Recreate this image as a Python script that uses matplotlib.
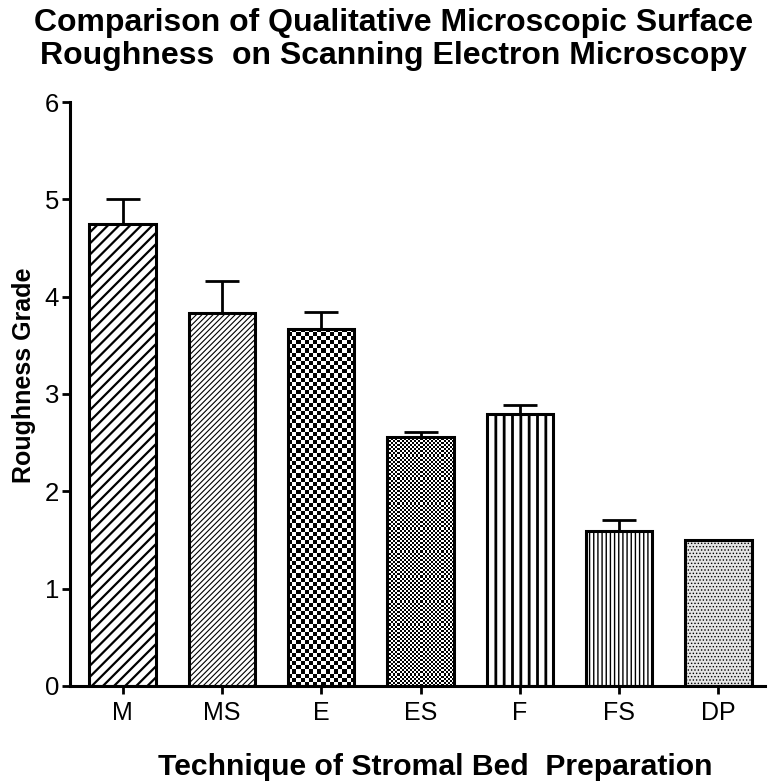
import numpy as np
import matplotlib.pyplot as plt

plt.rcParams['font.family'] = ['Liberation Sans', 'DejaVu Sans']

# Donnees
groupes = ['M', 'MS', 'E', 'ES', 'F', 'FS', 'DP']
moyennes = [4.75, 3.83, 3.67, 2.56, 2.79, 1.59, 1.50]
erreurs = [0.25, 0.33, 0.17, 0.05, 0.10, 0.11, 0.0]

# Motifs de remplissage
motifs = ['///', '//////', None, None, '||', '||||', '.....']
epaisseurs = [1.6, 0.8, 1.0, 1.0, 2.0, 1.0, 0.6]
fonds = ['white', 'white', 'white', 'white', 'white', 'white', '#e4e4e4']
damiers = {2: 16, 3: 32}   # nombre de cases en largeur

fig = plt.figure(figsize=(7.7, 7.83), dpi=100)
ax = fig.add_axes([0.091, 0.124, 0.9025, 0.7457])
ax.set_xlim(-0.53, 6.47)
ax.set_ylim(0, 6)

x = np.arange(len(groupes))
barres = []
for i in range(len(groupes)):
    with plt.rc_context({'hatch.linewidth': epaisseurs[i], 'hatch.color': 'black'}):
        b = ax.bar(x[i], moyennes[i], width=0.67, color=fonds[i], edgecolor='black',
                   linewidth=2.2, hatch=motifs[i], zorder=2)[0]
    barres.append(b)

# damiers pour E et ES (cases carrees)
larg_px = ax.get_position().width * fig.get_figwidth() * fig.dpi / 7.0
haut_px = ax.get_position().height * fig.get_figheight() * fig.dpi / 6.0
for i, n in damiers.items():
    b = barres[i]
    x0, w, h = b.get_x(), b.get_width(), b.get_height()
    cell = w / n
    cell_y = cell * larg_px / haut_px
    m = int(np.ceil(h / cell_y))
    grille = (np.add.outer(np.arange(m), np.arange(n)) % 2).astype(float)
    im = ax.imshow(grille, cmap='gray', vmin=0, vmax=1, origin='lower',
                   extent=[x0, x0 + n * cell, 0, m * cell_y],
                   interpolation='nearest', aspect='auto', zorder=2.5)
    im.set_clip_path(b)
    b.set_facecolor('none')
    b.set_zorder(3)

ax.errorbar(x, moyennes, yerr=[np.zeros(len(erreurs)), erreurs], fmt='none',
            ecolor='black', elinewidth=2, capsize=12, capthick=2, zorder=1)

ax.set_xlim(-0.53, 6.47)
ax.set_ylim(0, 6)
ax.set_xticks(x)
ax.set_xticklabels(groupes, fontsize=18)
ax.set_yticks(range(0, 7))
ax.tick_params(axis='y', labelsize=18.5, width=2, length=6, pad=2)
ax.tick_params(axis='x', width=2, length=6, pad=5)
for s in ['top', 'right']:
    ax.spines[s].set_visible(False)
for s in ['left', 'bottom']:
    ax.spines[s].set_linewidth(2.2)

fig.text(0.031, 0.521, 'Roughness Grade', rotation=90, fontsize=18,
         fontweight='bold', ha='center', va='center')
fig.text(0.565, 0.0102, 'Technique of Stromal Bed  Preparation', fontsize=21.7,
         fontweight='bold', ha='center', va='baseline')
fig.text(0.511, 0.99, 'Comparison of Qualitative Microscopic Surface\nRoughness  on Scanning Electron Microscopy',
         fontsize=23, fontweight='bold', ha='center', va='top', linespacing=1.12)

fig.savefig('out.png', dpi=100)
